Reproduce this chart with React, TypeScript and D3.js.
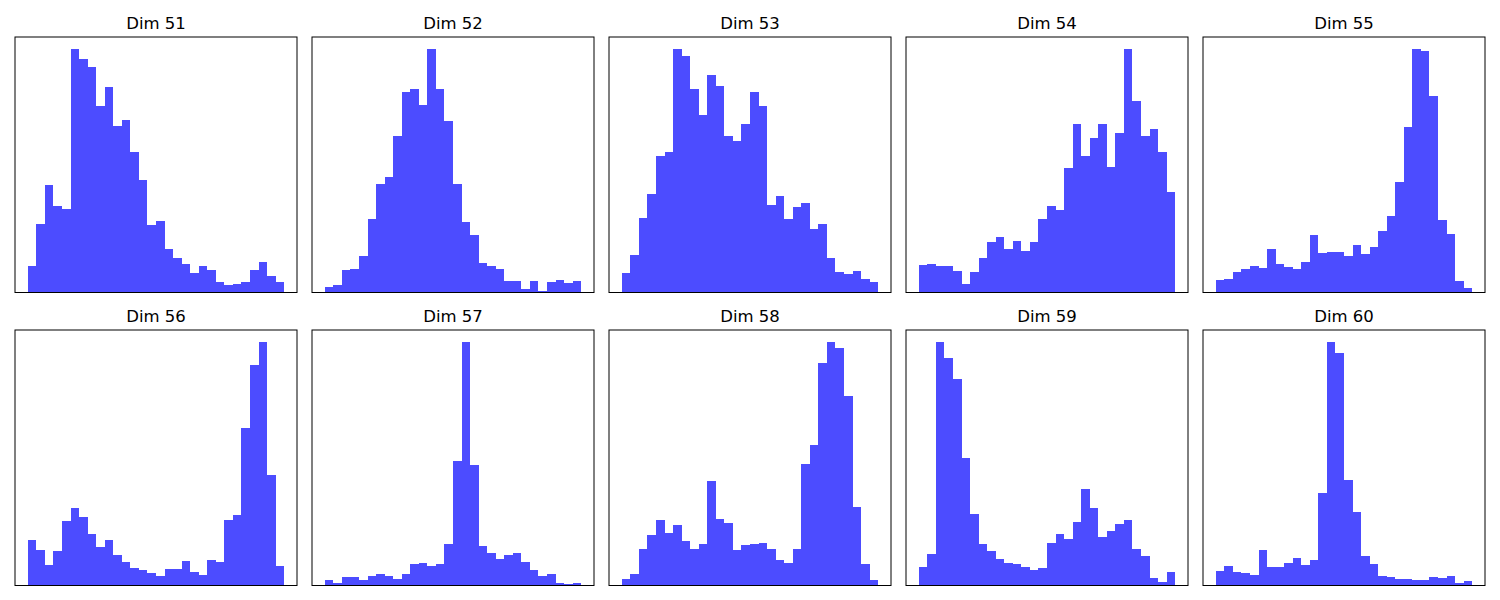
import React from "react";
import * as d3 from "d3";

const titles = ["Dim 51", "Dim 52", "Dim 53", "Dim 54", "Dim 55", "Dim 56", "Dim 57", "Dim 58", "Dim 59", "Dim 60"];

const dim51 = [81, 207, 324, 261, 252, 732, 702, 678, 561, 618, 501, 519, 423, 339, 204, 216, 132, 105, 87, 60, 81, 69, 33, 24, 27, 33, 69, 93, 51, 33];
const dim52 = [18, 24, 69, 72, 111, 222, 327, 348, 471, 603, 612, 564, 732, 612, 516, 327, 213, 174, 90, 81, 72, 36, 36, 12, 36, 6, 33, 39, 30, 36];
const dim53 = [60, 114, 225, 297, 411, 423, 732, 711, 612, 534, 654, 621, 471, 456, 507, 603, 561, 264, 291, 222, 258, 270, 192, 207, 105, 63, 57, 66, 42, 33];
const dim54 = [84, 87, 81, 81, 66, 27, 63, 105, 153, 168, 132, 156, 126, 153, 222, 261, 249, 375, 507, 411, 465, 507, 378, 480, 732, 576, 471, 492, 423, 303];
const dim55 = [39, 42, 63, 72, 81, 75, 132, 87, 78, 72, 93, 174, 120, 123, 123, 111, 144, 117, 138, 186, 231, 333, 498, 732, 726, 591, 219, 177, 36, 15];
const dim56 = [135, 105, 60, 102, 192, 231, 204, 153, 114, 135, 90, 69, 51, 45, 36, 27, 48, 48, 72, 39, 30, 75, 69, 195, 210, 471, 660, 729, 330, 57];
const dim57 = [15, 6, 24, 24, 15, 27, 33, 27, 18, 33, 63, 66, 57, 63, 123, 372, 729, 360, 117, 96, 78, 90, 96, 69, 45, 27, 33, 6, 3, 6];
const dim58 = [18, 33, 108, 150, 195, 156, 180, 132, 108, 123, 312, 198, 186, 105, 120, 123, 126, 108, 75, 66, 108, 363, 420, 666, 729, 711, 567, 234, 63, 15];
const dim59 = [54, 93, 729, 681, 618, 381, 213, 123, 102, 78, 66, 63, 54, 45, 51, 126, 153, 138, 189, 288, 231, 144, 162, 183, 195, 108, 87, 21, 9, 39];
const dim60 = [42, 57, 39, 36, 30, 105, 54, 54, 66, 81, 60, 75, 276, 729, 696, 315, 219, 87, 63, 27, 24, 18, 18, 15, 15, 24, 21, 27, 6, 12];

const series = [dim51, dim52, dim53, dim54, dim55, dim56, dim57, dim58, dim59, dim60];

const W = 1500;
const H = 600;
const colLefts = [15, 312, 609, 906, 1203];
const axW = 282;
const rowTops = [37, 330];
const axH = 255.5;

function Panel({ values, title, left, top }: { values: number[]; title: string; left: number; top: number }) {
  const n = values.length;
  const x = d3.scaleLinear().domain([-0.05 * n, n * 1.05]).range([left, left + axW]);
  const maxV = d3.max(values) ?? 1;
  const y = d3.scaleLinear().domain([0, maxV * 1.05]).range([top + axH, top]);
  return (
    <g>
      {values.map((v, i) => (
        <rect
          key={i}
          x={x(i)}
          width={x(i + 1) - x(i)}
          y={y(v)}
          height={y(0) - y(v)}
          fill="blue"
          fillOpacity={0.7}
          shapeRendering="crispEdges"
        />
      ))}
      <rect x={left} y={top} width={axW} height={axH} fill="none" stroke="black" strokeWidth={1} />
      <text
        x={left + axW / 2}
        y={top - 8.5}
        textAnchor="middle"
        fontFamily="DejaVu Sans"
        fontSize={16.5}
        fill="black"
      >
        {title}
      </text>
    </g>
  );
}

export default function App() {
  return (
    <svg width={W} height={H} style={{ position: "absolute", left: 0, top: 0, background: "white" }}>
      <rect width={W} height={H} fill="white" />
      {series.map((vals, k) => (
        <Panel
          key={k}
          values={vals}
          title={titles[k]}
          left={colLefts[k % 5]}
          top={rowTops[Math.floor(k / 5)]}
        />
      ))}
    </svg>
  );
}
